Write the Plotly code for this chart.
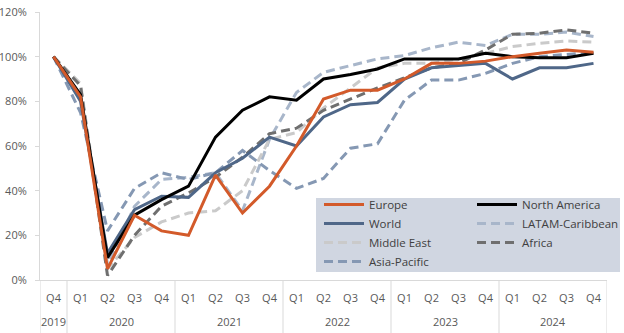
import plotly.graph_objects as go

years = ["2019"] + ["2020"] * 4 + ["2021"] * 4 + ["2022"] * 4 + ["2023"] * 4 + ["2024"] * 4
quarters = ["Q4"] + ["Q1", "Q2", "Q3", "Q4"] * 5

europe = [100, 82, 5, 29, 22, 20, 47, 30, 42, 60, 81, 85, 85, 90, 97, 97, 98, 100, 101.5, 103, 102]
north_america = [100, 83, 10, 29, 36, 42, 64, 76, 82, 80.5, 90, 92, 94.5, 99, 99, 99, 101.5, 100, 99.5, 99.5, 101.5]
world = [100, 80, 12, 31.5, 37.5, 37, 48, 54.5, 64, 60, 73, 78.5, 79.5, 90, 95, 96, 97, 90, 95, 95, 97]
latam = [100, 82, 7, 33, 45, 46, 48, 31, 63, 84, 93, 96, 99, 100.5, 104, 106.5, 105, 110, 110, 111, 109]
middle_east = [100, 88, 5, 19, 26, 30, 31, 40, 63, 66, 77, 86, 95, 97, 97, 99, 101.5, 104.5, 106, 107, 106.5]
africa = [100, 87, 2, 20, 33, 39, 46, 55, 65.5, 68, 76, 81, 86, 90.5, 95, 97, 103, 110, 110.5, 112, 110.5]
asia_pacific = [100, 75, 22, 41, 48, 45, 48, 58, 49, 41, 45.5, 59, 61, 80.5, 89.5, 89.5, 92.5, 97, 100, 101, 102]

keys = [f"{q} {y}" for q, y in zip(quarters, years)]

# name, values, colour, dash, legend id
series = {
    "Europe": (europe, "#d35a2a", "solid", "legend"),
    "North America": (north_america, "#000000", "solid", "legend2"),
    "World": (world, "#4f6788", "solid", "legend"),
    "LATAM-Caribbean": (latam, "#a8b6ca", "9px,5px", "legend2"),
    "Middle East": (middle_east, "#cacaca", "9px,5px", "legend"),
    "Africa": (africa, "#6f6f6f", "9px,5px", "legend2"),
    "Asia-Pacific": (asia_pacific, "#8598b3", "9px,5px", "legend"),
}
legend_order = list(series.keys())
draw_order = ["LATAM-Caribbean", "Asia-Pacific", "Middle East", "Africa", "World", "North America", "Europe"]

fig = go.Figure()
for name in draw_order:
    vals, color, dash, leg = series[name]
    fig.add_trace(go.Scatter(
        x=keys, y=vals, name=name, mode="lines",
        line=dict(color=color, width=3, dash=dash),
        legend=leg, legendrank=legend_order.index(name) + 1,
    ))

# plot-area geometry (pixels) used to place legend/annotations in paper units
W, H = 624, 333
ml, mr, mt, mb = 40, 17, 12, 53
pw, ph = W - ml - mr, H - mt - mb

def px_x(p):
    return (p - ml) / pw

def px_y(p):
    return (H - mb - p) / ph

legend_common = dict(
    orientation="v", xanchor="left", yanchor="top",
    bgcolor="rgba(0,0,0,0)", font=dict(size=11.5, color="#404040"),
    tracegroupgap=0, itemwidth=40, traceorder="normal",
)

fig.update_layout(
    width=W, height=H,
    margin=dict(l=ml, r=mr, t=mt, b=mb, autoexpand=False),
    paper_bgcolor="white", plot_bgcolor="white",
    font=dict(family="Open Sans", size=11, color="#595959"),
    showlegend=True,
    legend=dict(x=px_x(319), y=px_y(190), **legend_common),
    legend2=dict(x=px_x(472), y=px_y(190), **legend_common),
)

# legend background box
fig.add_shape(type="rect", xref="paper", yref="paper",
              x0=px_x(316), x1=px_x(620), y0=px_y(272), y1=px_y(198),
              fillcolor="#d0d6e1", line=dict(width=0), layer="above")

# year group labels and dividers
groups = []
for i, y in enumerate(years):
    if not groups or groups[-1][0] != y:
        groups.append([y, i, i])
    else:
        groups[-1][2] = i
bounds = sorted({g[1] - 0.5 for g in groups} | {g[2] + 0.5 for g in groups})
for b in bounds:
    fig.add_shape(type="line", xref="x", yref="paper", x0=b, x1=b,
                  y0=0, y1=px_y(H), line=dict(color="#d9d9d9", width=1))
for y, i0, i1 in groups:
    fig.add_annotation(x=(i0 + i1) / 2, y=px_y(321), xref="x", yref="paper",
                       text=y, showarrow=False, yanchor="middle",
                       font=dict(size=11, color="#595959"))

fig.update_yaxes(
    range=[0, 120], dtick=20, ticksuffix="%", showgrid=False, automargin=False,
    showline=True, linecolor="#d9d9d9", linewidth=1,
    ticks="outside", ticklen=4, tickcolor="#d9d9d9", ticklabelstandoff=6,
    tickfont=dict(size=11, color="#595959"), zeroline=False,
)
fig.update_xaxes(
    type="category", range=[-0.5, len(keys) - 0.5], automargin=False,
    tickvals=keys, ticktext=quarters, showgrid=False,
    showline=True, linecolor="#d9d9d9", linewidth=1,
    ticks="", ticklabelstandoff=8,
    tickfont=dict(size=11, color="#595959"),
)

fig.write_html("out.html")
